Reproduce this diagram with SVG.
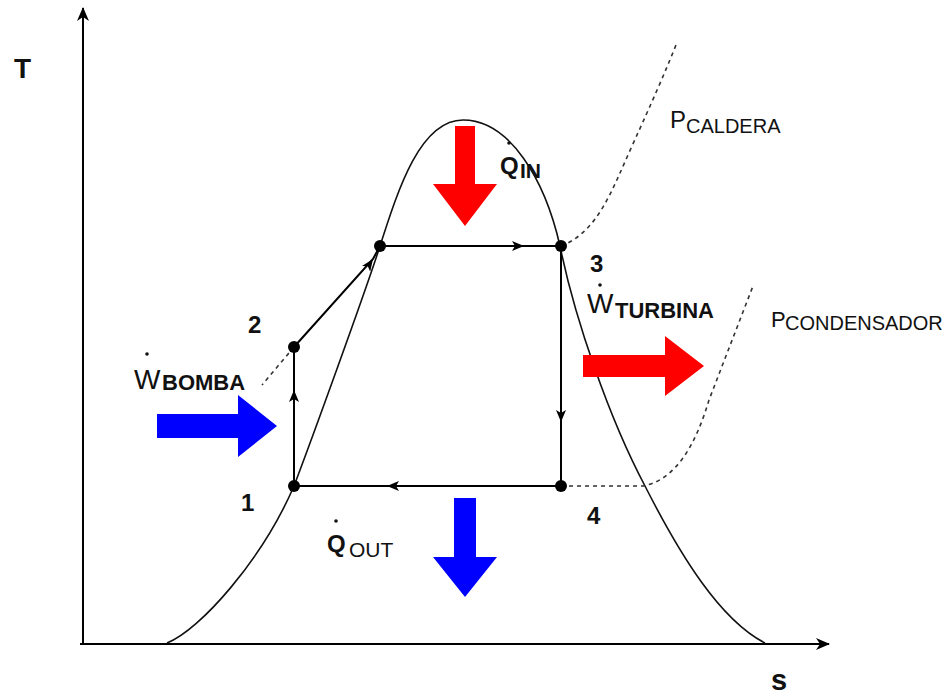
<svg xmlns="http://www.w3.org/2000/svg" width="947" height="697" viewBox="0 0 947 697">
<defs>
<style>
text{font-family:"Liberation Sans",Arial,sans-serif;fill:#111}
.b{font-weight:bold}
.ax{stroke:#000;stroke-width:2;fill:none}
.cyc{stroke:#000;stroke-width:2;fill:none}
.dome{stroke:#111;stroke-width:1.6;fill:none}
.dash{stroke:#333;stroke-width:1.6;fill:none;stroke-dasharray:4 4}
.pt{fill:#000}
.red{fill:#FF0000}
.blue{fill:#0000FF}
</style>
<marker id="ah" viewBox="0 0 12 10" refX="12" refY="5" markerWidth="12" markerHeight="10" markerUnits="userSpaceOnUse" orient="auto">
<path d="M0,0 L12,5 L0,10 L3,5 z" fill="#000"/>
</marker>
<marker id="axh" viewBox="0 0 14 12" refX="13" refY="6" markerWidth="14" markerHeight="12" markerUnits="userSpaceOnUse" orient="auto">
<path d="M0,0 L14,6 L0,12 L4,6 z" fill="#000"/>
</marker>
</defs>
<rect width="947" height="697" fill="#fff"/>

<g id="axes">
<line class="ax" x1="83" y1="645" x2="83" y2="8" marker-end="url(#axh)"/>
<line class="ax" x1="80" y1="644" x2="829" y2="644" marker-end="url(#axh)"/>
<text class="b" x="14" y="78" font-size="28">T</text>
<text class="b" x="771" y="690" font-size="29">s</text>
</g>

<g id="dome">
<path class="dome" d="M167,643 C200,630 262,560 294,486 C310,444 366,290 380,246 C398,190 420,120 463,120 C510,120 545,180 560,246 C575,320 610,420 645,486 C680,555 720,620 765,643"/>
</g>

<g id="isobars">
<path class="dash" d="M294,347 L262,385"/>
<path class="dash" d="M561,246 C598,232 612,190 632,146 S664,75 676,45"/>
<path class="dash" d="M561,486 L643,486 C676,480 696,444 709,400 L753,286"/>
</g>

<g id="connectors">
<polyline class="cyc" points="294,486 294,390 294,347" marker-mid="url(#ah)"/>
<polyline class="cyc" points="294,347 373,259 380,246" marker-mid="url(#ah)"/>
<polyline class="cyc" points="380,246 524,246 561,246" marker-mid="url(#ah)"/>
<polyline class="cyc" points="561,246 561,422 561,486" marker-mid="url(#ah)"/>
<polyline class="cyc" points="561,486 387,486 294,486" marker-mid="url(#ah)"/>
</g>

<g id="point1"><circle class="pt" cx="294" cy="486" r="6"/><text class="b" x="241" y="511" font-size="24">1</text></g>
<g id="point2"><circle class="pt" cx="294" cy="347" r="6"/><text class="b" x="248" y="333" font-size="24">2</text></g>
<g id="pointA"><circle class="pt" cx="380" cy="246" r="6"/></g>
<g id="point3"><circle class="pt" cx="561" cy="246" r="6"/><text class="b" x="590" y="272" font-size="24">3</text></g>
<g id="point4"><circle class="pt" cx="561" cy="486" r="6"/><text class="b" x="587" y="524" font-size="24">4</text></g>

<g id="qin">
<polygon class="red" points="455,126 475,126 475,184 497,184 465,226 433,184 455,184"/>
<circle cx="509" cy="143" r="1.8" fill="#111"/>
<text x="500" y="174" font-size="24" class="b">Q<tspan x="520" y="178" font-size="21">IN</tspan></text>
</g>

<g id="qout">
<polygon class="blue" points="454,498 476,498 476,557 497,557 465,597 433,557 454,557"/>
<circle cx="336" cy="521" r="1.8" fill="#111"/>
<text x="327" y="552" font-size="24" class="b">Q<tspan x="349" y="557" font-size="21" font-weight="normal">OUT</tspan></text>
</g>

<g id="wbomba">
<polygon class="blue" points="157,414 238,414 238,395 277,426 238,457 238,438 157,438"/>
<circle cx="147" cy="354" r="1.8" fill="#111"/>
<text x="134" y="389" font-size="28">W<tspan x="162" y="390" font-size="22" class="b">BOMBA</tspan></text>
</g>

<g id="wturbina">
<polygon class="red" points="583,355 665,355 665,336 704,366 665,396 665,377 583,377"/>
<circle cx="600" cy="285" r="1.8" fill="#111"/>
<text x="587" y="313" font-size="28">W<tspan x="615" y="318" font-size="22" class="b">TURBINA</tspan></text>
</g>

<g id="pcaldera">
<text x="670" y="128" font-size="24" fill="#222">P<tspan x="686" y="133" font-size="20">CALDERA</tspan></text>
</g>

<g id="pcondensador">
<text x="771" y="327" font-size="22" fill="#222">P<tspan x="785" y="330" font-size="20">CONDENSADOR</tspan></text>
</g>
</svg>
